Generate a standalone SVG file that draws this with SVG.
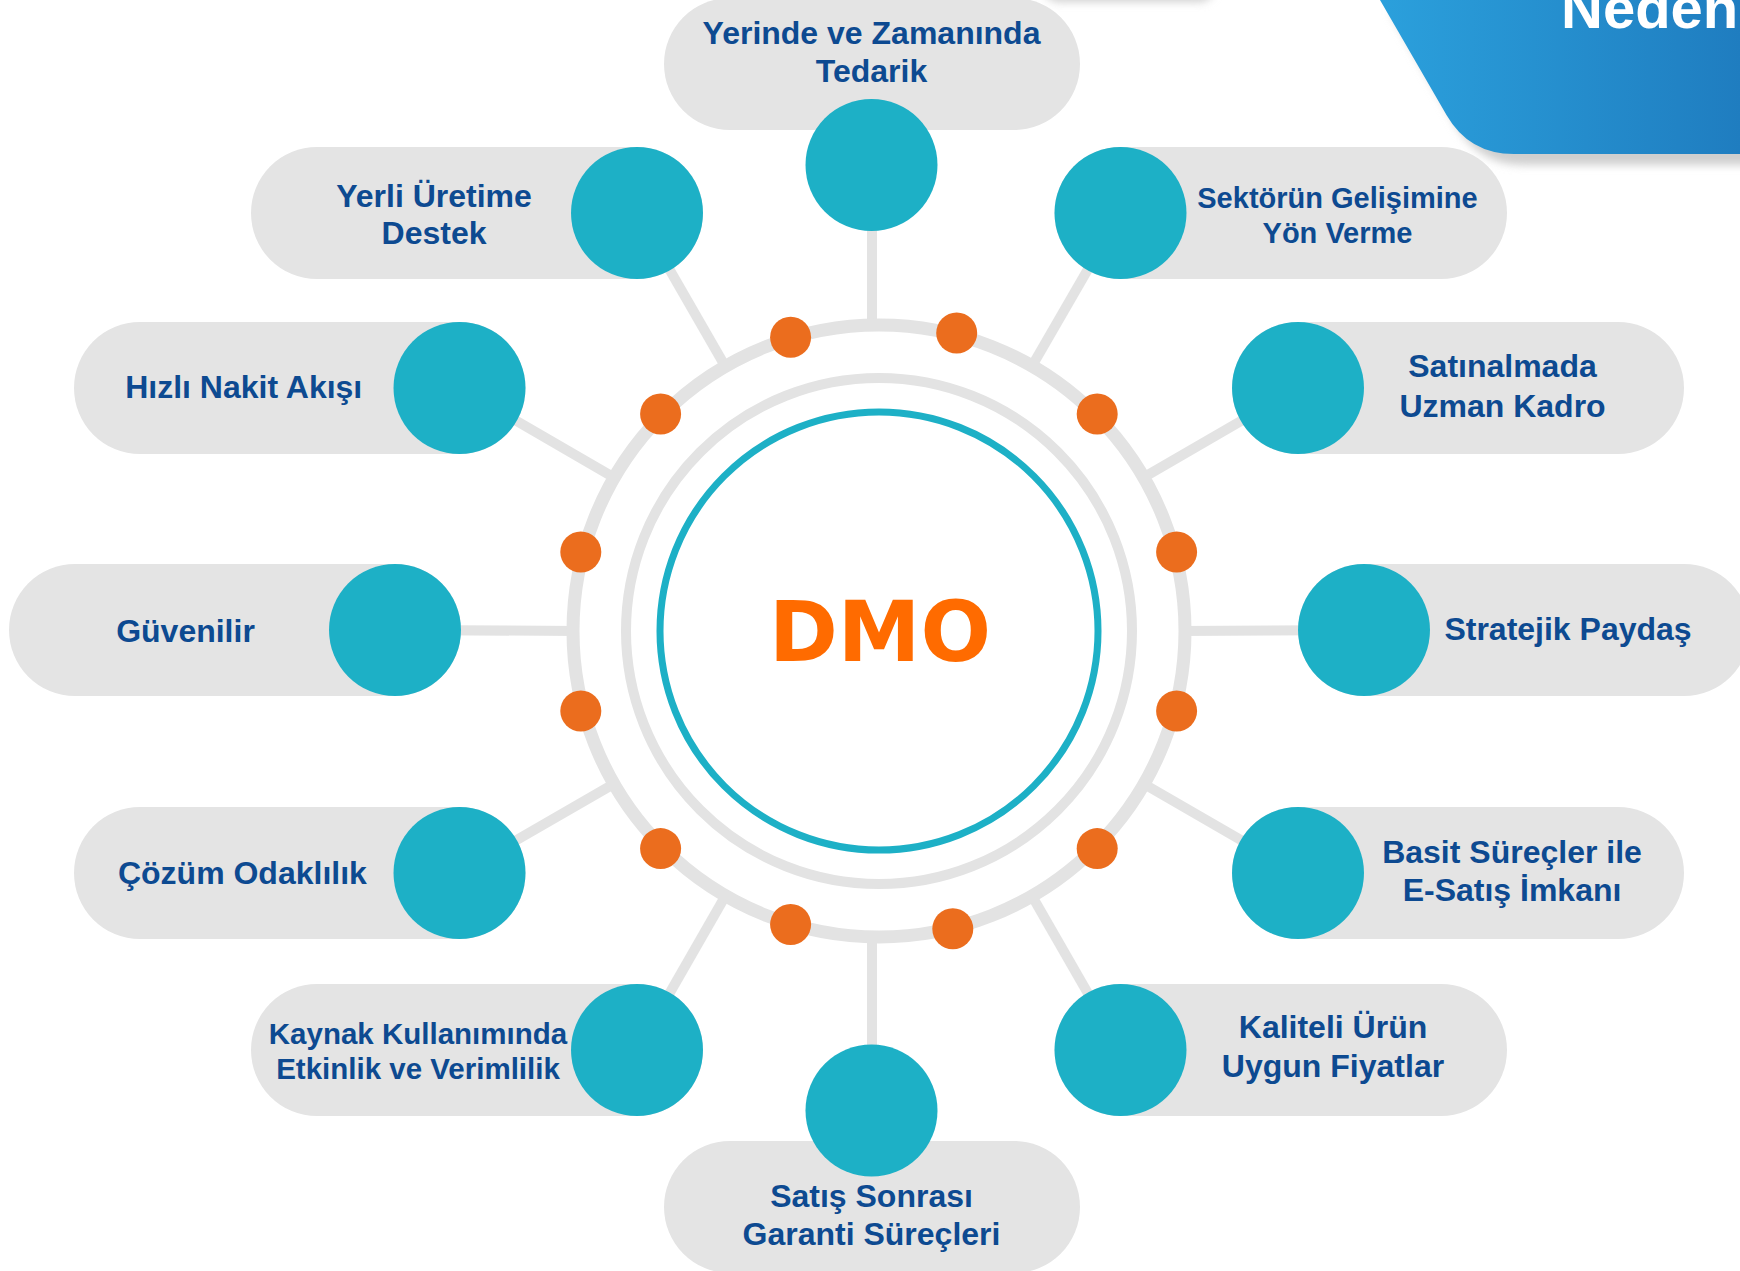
<svg xmlns="http://www.w3.org/2000/svg" width="1740" height="1271" viewBox="0 0 1740 1271">
<defs>
<linearGradient id="hdr" x1="0" y1="0" x2="1" y2="0">
<stop offset="0" stop-color="#2BA0DC"/>
<stop offset="1" stop-color="#1F7DC0"/>
</linearGradient>
<filter id="blur" x="-20%" y="-50%" width="140%" height="200%"><feGaussianBlur stdDeviation="4"/></filter>
</defs>
<style>
.pill{fill:#E4E4E4}
.dot{fill:#1DB0C6}
.od{fill:#EB6D1E}
.sp{stroke:#E3E3E3;stroke-width:10;fill:none}
.t{font-family:"Liberation Sans",Arial,sans-serif;font-weight:bold;font-size:32px;fill:#0D4A91;text-anchor:middle}
.s29{font-size:29px}
</style>
<rect x="0" y="0" width="1740" height="1271" fill="#FFFFFF"/>
<g id="header">
<rect x="1043" y="-30" width="172" height="32" rx="16" fill="#D0D0D0" filter="url(#blur)"/>
<path d="M1380,0 L1446.5,115 Q1469,154 1514,154 L1740,154 L1740,0 Z" fill="#CFCFCF" transform="translate(10,11)" filter="url(#blur)"/>
<path d="M1380,0 L1446.5,115 Q1469,154 1514,154 L1740,154 L1740,0 Z" fill="url(#hdr)"/>
<text x="1561" y="28" font-family="'Liberation Sans',Arial,sans-serif" font-weight="bold" font-size="58" fill="#FFFFFF">Neden</text>
</g>
<g id="connectors">
<line class="sp" x1="1179" y1="631" x2="1364" y2="630"/>
<line class="sp" x1="1138.5" y1="480.4" x2="1298" y2="388"/>
<line class="sp" x1="1029" y1="371.2" x2="1120.5" y2="213"/>
<line class="sp" x1="872" y1="331" x2="872" y2="165"/>
<line class="sp" x1="728.2" y1="371.6" x2="637" y2="213"/>
<line class="sp" x1="619.4" y1="480.6" x2="459.5" y2="388"/>
<line class="sp" x1="579" y1="631" x2="395" y2="630"/>
<line class="sp" x1="619.1" y1="780.9" x2="459.5" y2="873"/>
<line class="sp" x1="728.5" y1="890.5" x2="637" y2="1050"/>
<line class="sp" x1="872" y1="931" x2="872" y2="1110"/>
<line class="sp" x1="1029" y1="890.8" x2="1120.5" y2="1050"/>
<line class="sp" x1="1138.8" y1="781" x2="1298" y2="873"/>
</g>
<g id="hub">
<circle cx="879" cy="631" r="306" fill="#FFFFFF" stroke="#E3E3E3" stroke-width="13"/>
<circle cx="879" cy="631" r="253" fill="none" stroke="#E3E3E3" stroke-width="10"/>
<circle cx="879" cy="631" r="219" fill="#FFFFFF" stroke="#1DB0C6" stroke-width="7"/>
<circle class="od" cx="790.6" cy="337.3" r="20.5"/>
<circle class="od" cx="956.7" cy="333" r="20.5"/>
<circle class="od" cx="660.6" cy="414" r="20.5"/>
<circle class="od" cx="1097.2" cy="414" r="20.5"/>
<circle class="od" cx="580.8" cy="552" r="20.5"/>
<circle class="od" cx="1176.6" cy="552" r="20.5"/>
<circle class="od" cx="580.8" cy="711" r="20.5"/>
<circle class="od" cx="1176.6" cy="711" r="20.5"/>
<circle class="od" cx="660.6" cy="848.6" r="20.5"/>
<circle class="od" cx="1097.2" cy="848.6" r="20.5"/>
<circle class="od" cx="790.6" cy="924.5" r="20.5"/>
<circle class="od" cx="952.8" cy="928.8" r="20.5"/>
<text x="880" y="661" font-family="'DejaVu Sans',Verdana,sans-serif" font-weight="bold" font-size="83" fill="#FF6B00" text-anchor="middle">DMO</text>
</g>
<g id="n-yerinde">
<rect class="pill" x="664" y="-2" width="416" height="132" rx="66"/>
<circle class="dot" cx="871.5" cy="165" r="66"/>
<text class="t" x="871.5" y="44">Yerinde ve Zamanında</text>
<text class="t" x="871.5" y="82">Tedarik</text>
</g>
<g id="n-yerli">
<rect class="pill" x="251" y="147" width="452" height="132" rx="66"/>
<circle class="dot" cx="637" cy="213" r="66"/>
<text class="t" x="434" y="207">Yerli Üretime</text>
<text class="t" x="434" y="244">Destek</text>
</g>
<g id="n-sektor">
<rect class="pill" x="1054.5" y="147" width="452.5" height="132" rx="66"/>
<circle class="dot" cx="1120.5" cy="213" r="66"/>
<text class="t s29" x="1337.5" y="208">Sektörün Gelişimine</text>
<text class="t s29" x="1337.5" y="243">Yön Verme</text>
</g>
<g id="n-hizli">
<rect class="pill" x="74" y="322" width="451.5" height="132" rx="66"/>
<circle class="dot" cx="459.5" cy="388" r="66"/>
<text class="t" x="243.7" y="398">Hızlı Nakit Akışı</text>
</g>
<g id="n-satinalma">
<rect class="pill" x="1232" y="322" width="452" height="132" rx="66"/>
<circle class="dot" cx="1298" cy="388" r="66"/>
<text class="t" x="1502.5" y="377">Satınalmada</text>
<text class="t" x="1502.5" y="416.5">Uzman Kadro</text>
</g>
<g id="n-guvenilir">
<rect class="pill" x="9" y="564" width="452" height="132" rx="66"/>
<circle class="dot" cx="395" cy="630" r="66"/>
<text class="t" x="185.5" y="641.5">Güvenilir</text>
</g>
<g id="n-stratejik">
<rect class="pill" x="1298" y="564" width="452" height="132" rx="66"/>
<circle class="dot" cx="1364" cy="630" r="66"/>
<text class="t" x="1568" y="640">Stratejik Paydaş</text>
</g>
<g id="n-cozum">
<rect class="pill" x="74" y="807" width="451.5" height="132" rx="66"/>
<circle class="dot" cx="459.5" cy="873" r="66"/>
<text class="t" x="242.4" y="884">Çözüm Odaklılık</text>
</g>
<g id="n-basit">
<rect class="pill" x="1232" y="807" width="452" height="132" rx="66"/>
<circle class="dot" cx="1298" cy="873" r="66"/>
<text class="t" x="1512" y="862.5">Basit Süreçler ile</text>
<text class="t" x="1512" y="901">E-Satış İmkanı</text>
</g>
<g id="n-kaynak">
<rect class="pill" x="251" y="984" width="452" height="132" rx="66"/>
<circle class="dot" cx="637" cy="1050" r="66"/>
<text class="t" x="418" y="1044" style="font-size:29.5px">Kaynak Kullanımında</text>
<text class="t" x="418" y="1079" style="font-size:29.5px">Etkinlik ve Verimlilik</text>
</g>
<g id="n-kaliteli">
<rect class="pill" x="1054.5" y="984" width="452.5" height="132" rx="66"/>
<circle class="dot" cx="1120.5" cy="1050" r="66"/>
<text class="t" x="1333" y="1038">Kaliteli Ürün</text>
<text class="t" x="1333" y="1077">Uygun Fiyatlar</text>
</g>
<g id="n-satis">
<rect class="pill" x="664" y="1141" width="416" height="132" rx="66"/>
<circle class="dot" cx="871.5" cy="1110.5" r="66"/>
<text class="t" x="871.5" y="1207">Satış Sonrası</text>
<text class="t" x="871.5" y="1245">Garanti Süreçleri</text>
</g>
</svg>
